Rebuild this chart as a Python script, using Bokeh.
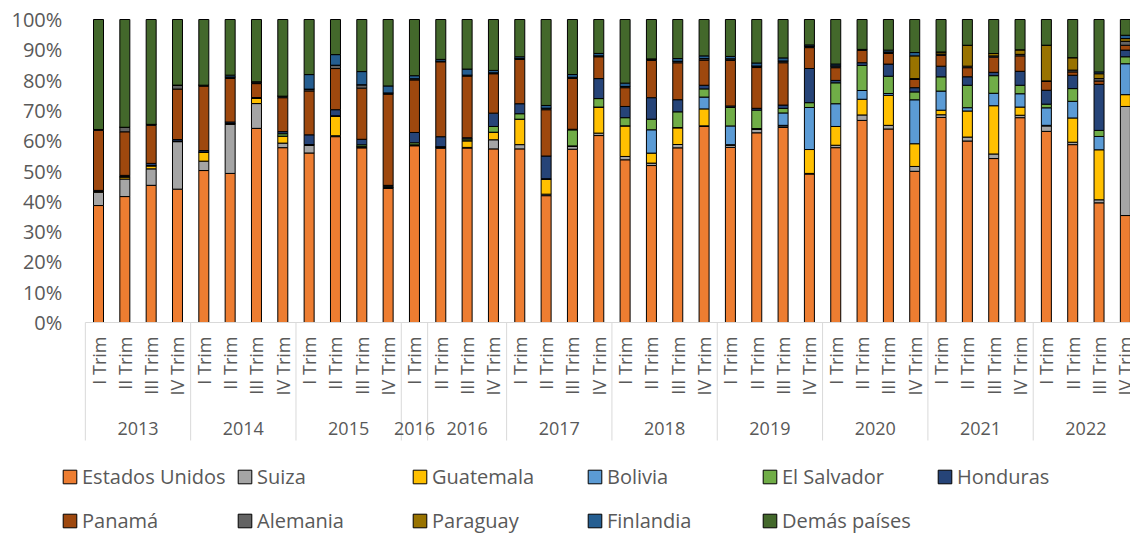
import math
from bokeh.plotting import figure
from bokeh.models import (ColumnDataSource, Range1d, FixedTicker,
                          NumeralTickFormatter, Legend, LegendItem)
from bokeh.embed import file_html
from bokeh.resources import INLINE
from bokeh.core.properties import value

# ---------------- data (percent shares) ----------------
group_labels = ["2013", "2014", "2015", "2016", "2016", "2017", "2018", "2019", "2020", "2021", "2022"]
group_quarters = [
    ["I Trim", "II Trim", "III Trim", "IV Trim"],
    ["I Trim", "II Trim", "III Trim", "IV Trim"],
    ["I Trim", "II Trim", "III Trim", "IV Trim"],
    ["I Trim"],
    ["II Trim", "III Trim", "IV Trim"],
    ["I Trim", "II Trim", "III Trim", "IV Trim"],
    ["I Trim", "II Trim", "III Trim", "IV Trim"],
    ["I Trim", "II Trim", "III Trim", "IV Trim"],
    ["I Trim", "II Trim", "III Trim", "IV Trim"],
    ["I Trim", "II Trim", "III Trim", "IV Trim"],
    ["I Trim", "II Trim", "III Trim", "IV Trim"],
]

countries = ["Estados Unidos", "Suiza", "Guatemala", "Bolivia", "El Salvador", "Honduras",
             "Panamá", "Alemania", "Paraguay", "Finlandia", "Demás países"]

estados_unidos = [38.6, 41.6, 45.0, 44.1, 50.2, 49.3, 64.2, 57.7, 56.0, 61.4,
                  57.0, 44.4, 58.5, 57.7, 57.7, 57.3, 57.3, 41.9, 57.3, 61.7,
                  53.7, 51.8, 57.7, 64.7, 57.9, 62.8, 64.5, 49.1, 57.7, 66.9,
                  63.8, 49.9, 67.6, 59.9, 54.0, 67.6, 63.2, 58.7, 39.5, 35.3]
suiza = [4.4, 5.8, 5.4, 15.7, 3.1, 16.3, 8.2, 1.5, 2.5, 0.3,
         0.3, 0.2, 0.2, 0.2, 0.2, 3.0, 1.4, 0.5, 0.9, 0.8,
         1.1, 0.8, 1.1, 0.2, 0.7, 1.1, 0.5, 0.2, 0.8, 1.8,
         1.2, 1.6, 0.9, 1.3, 1.5, 0.8, 1.8, 0.8, 1.0, 36.0]
guatemala = [0.2, 0.7, 1.0, 0.1, 2.9, 0.1, 1.8, 2.3, 0.2, 6.5,
             0.1, 0.1, 0.1, 0.2, 2.2, 2.5, 8.4, 5.0, 0.2, 8.6,
             10.1, 3.3, 5.5, 5.6, 0.2, 0.2, 0.2, 7.9, 6.2, 5.2,
             9.9, 7.5, 1.5, 8.6, 15.9, 2.7, 0.2, 8.0, 16.5, 3.9]
bolivia = [0.0, 0.0, 0.0, 0.0, 0.0, 0.0, 0.0, 0.0, 0.0, 0.0,
           0.0, 0.0, 0.0, 0.0, 0.0, 0.0, 0.0, 0.0, 0.0, 0.0,
           0.0, 7.7, 0.1, 3.9, 6.2, 0.1, 4.1, 13.9, 7.5, 2.9,
           0.6, 14.5, 6.3, 1.1, 4.1, 4.4, 5.8, 5.5, 4.4, 10.2]
el_salvador = [0.1, 0.1, 0.1, 0.1, 0.1, 0.1, 0.1, 0.8, 0.1, 0.1,
               0.6, 0.4, 0.7, 0.1, 0.6, 1.9, 1.8, 0.1, 5.3, 2.8,
               2.7, 3.5, 5.2, 2.7, 6.1, 6.1, 1.5, 1.6, 6.9, 8.3,
               5.7, 2.6, 4.7, 7.4, 5.8, 2.8, 1.2, 4.2, 2.0, 2.3]
honduras = [0.3, 0.4, 0.7, 0.5, 0.5, 0.5, 0.1, 0.7, 3.2, 2.0,
            1.8, 0.3, 3.4, 3.3, 0.4, 4.4, 3.3, 7.5, 0.2, 6.6,
            3.7, 7.1, 4.0, 1.2, 0.5, 0.6, 1.1, 11.3, 0.8, 0.9,
            4.0, 1.4, 3.5, 2.8, 1.1, 4.6, 4.6, 4.4, 15.2, 2.2]
panama = [19.8, 14.4, 12.5, 16.7, 21.3, 14.4, 4.6, 11.2, 14.5, 13.6,
          16.7, 30.2, 17.4, 24.8, 20.4, 13.0, 14.6, 15.3, 16.8, 7.2,
          6.2, 12.3, 12.2, 8.3, 15.1, 13.5, 14.0, 6.9, 4.2, 4.1,
          3.5, 2.7, 3.6, 3.0, 5.0, 5.1, 2.9, 1.1, 1.1, 1.6]
alemania = [0.3, 1.5, 0.3, 1.3, 0.3, 0.5, 0.6, 0.5, 0.6, 1.1,
            1.1, 0.4, 0.4, 0.2, 0.3, 0.3, 0.3, 0.5, 0.4, 0.3,
            0.4, 0.5, 0.5, 0.5, 0.5, 0.5, 0.6, 0.5, 0.6, 0.3,
            0.4, 0.3, 0.4, 0.5, 0.4, 0.5, 0.2, 0.6, 0.8, 1.3]
paraguay = [0.0, 0.0, 0.0, 0.0, 0.0, 0.0, 0.0, 0.0, 0.0, 0.0,
            0.0, 0.0, 0.0, 0.0, 0.0, 0.0, 0.0, 0.0, 0.0, 0.0,
            0.0, 0.0, 0.0, 0.0, 0.0, 0.0, 0.0, 0.0, 0.0, 0.0,
            0.1, 7.5, 0.7, 6.9, 0.8, 1.5, 11.8, 4.1, 1.6, 0.9]
finlandia = [0.0, 0.0, 0.0, 0.0, 0.0, 0.6, 0.0, 0.0, 4.8, 3.5,
             4.3, 2.3, 1.0, 0.6, 2.0, 0.8, 0.6, 0.9, 0.9, 0.8,
             1.1, 0.0, 0.9, 0.9, 0.8, 1.0, 1.0, 0.4, 0.6, 0.0,
             0.6, 1.1, 0.0, 0.0, 0.0, 0.0, 0.0, 0.0, 0.6, 1.1]
demas_paises = [36.3, 35.6, 34.4, 21.7, 21.7, 18.4, 20.6, 25.3, 18.2, 11.6,
                17.0, 22.0, 18.6, 13.2, 16.4, 16.8, 12.3, 28.4, 18.2, 11.2,
                21.0, 13.0, 12.9, 12.0, 12.2, 14.4, 12.7, 8.4, 14.7, 9.9,
                10.1, 10.9, 10.7, 8.5, 11.2, 10.0, 8.5, 12.6, 17.3, 5.2]

series = [estados_unidos, suiza, guatemala, bolivia, el_salvador, honduras,
          panama, alemania, paraguay, finlandia, demas_paises]

colors = ["#ED7D31", "#A5A5A5", "#FFC000", "#5B9BD5", "#70AD47", "#264478",
          "#9E480E", "#636363", "#997300", "#255E91", "#43682B"]

y_ticks = [0.0, 0.1, 0.2, 0.3, 0.4, 0.5, 0.6, 0.7, 0.8, 0.9, 1.0]

# ---------------- build structures ----------------
factors = []
quarter_text = []
for g, qs in zip(group_labels, group_quarters):
    for q in qs:
        factors.append((g, q))
        quarter_text.append(q)
n = len(factors)
xpos = [i + 0.5 for i in range(n)]          # one slot per quarter

totals = [sum(s[i] for s in series) for i in range(n)]
data = {"x": xpos, "periodo": [" ".join(f) for f in factors]}
for name, s in zip(countries, series):
    data[name] = [s[i] / totals[i] for i in range(n)]
source = ColumnDataSource(data)

# ---------------- geometry (page pixels) ----------------
W, H = 1130, 533
TOP = 19            # page y of 100 %
PXY = 303.0         # px per 100 %
ZERO_Y = TOP + PXY  # page y of 0 %
K = 26.33           # px per quarter slot
FIRST_BAR = 98.0    # page x of first bar centre

def py(page_y):
    return (ZERO_Y - page_y) / PXY

x_start = 0.5 - FIRST_BAR / K
x_end = x_start + W / K

TXT = "#595959"
FONT = "Open Sans"

p = figure(
    width=W, height=H,
    x_range=Range1d(x_start, x_end),
    y_range=Range1d(py(H), py(0)),
    x_axis_location=None,
    output_backend="svg", toolbar_location=None,
    min_border_left=0, min_border_right=0, min_border_top=0, min_border_bottom=0,
)
p.outline_line_color = None
p.xgrid.visible = False
p.ygrid.visible = False

renderers = p.vbar_stack(countries, x="x", width=10.0 / K, source=source,
                         fill_color=colors, line_color="black", line_width=1)

# y axis, pinned at the start of the category axis
ax = p.yaxis[0]
ax.fixed_location = 0
ax.ticker = FixedTicker(ticks=y_ticks)
ax.formatter = NumeralTickFormatter(format="0%")
ax.axis_line_color = None
ax.major_tick_line_color = None
ax.minor_tick_line_color = None
ax.major_tick_out = 0
ax.major_tick_in = 0
ax.major_label_standoff = 23
ax.major_label_text_font = FONT
ax.major_label_text_font_size = "20px"
ax.major_label_text_color = TXT

# two-level category axis
bounds = [0]
for qs in group_quarters:
    bounds.append(bounds[-1] + len(qs))
group_centers = [(bounds[i] + bounds[i + 1]) / 2 for i in range(len(group_labels))]

p.segment(x0=[bounds[0]], y0=[0], x1=[bounds[-1]], y1=[0], line_color="#D9D9D9", line_width=1)
p.segment(x0=bounds, y0=[0] * len(bounds), x1=bounds, y1=[py(440)] * len(bounds),
          line_color="#D9D9D9", line_width=1)

qsrc = ColumnDataSource(dict(x=xpos, y=[py(336)] * n, t=quarter_text))
p.text(x="x", y="y", text="t", source=qsrc, angle=math.pi / 2,
       text_align="right", text_baseline="middle",
       text_font=value(FONT), text_font_size="18px", text_color=TXT)

gsrc = ColumnDataSource(dict(x=group_centers, y=[py(427.5)] * len(group_labels), t=group_labels))
p.text(x="x", y="y", text="t", source=gsrc,
       text_align="center", text_baseline="middle",
       text_font=value(FONT), text_font_size="18px", text_color=TXT)

# legends (two rows)
items = [LegendItem(label=c, renderers=[r]) for c, r in zip(countries, renderers)]

def make_legend(its, loc):
    return Legend(items=its, orientation="horizontal", location=loc,
                  glyph_width=17, glyph_height=17, label_height=17, label_width=148,
                  label_standoff=4, spacing=6, padding=0, margin=0,
                  border_line_color=None, background_fill_alpha=0,
                  label_text_font=FONT, label_text_font_size="20px",
                  label_text_color=TXT, label_text_baseline="middle")

p.add_layout(make_legend(items[:6], (61, 43)))
p.add_layout(make_legend(items[6:], (61, -1)))

open("out.html", "w").write(file_html(p, INLINE))
